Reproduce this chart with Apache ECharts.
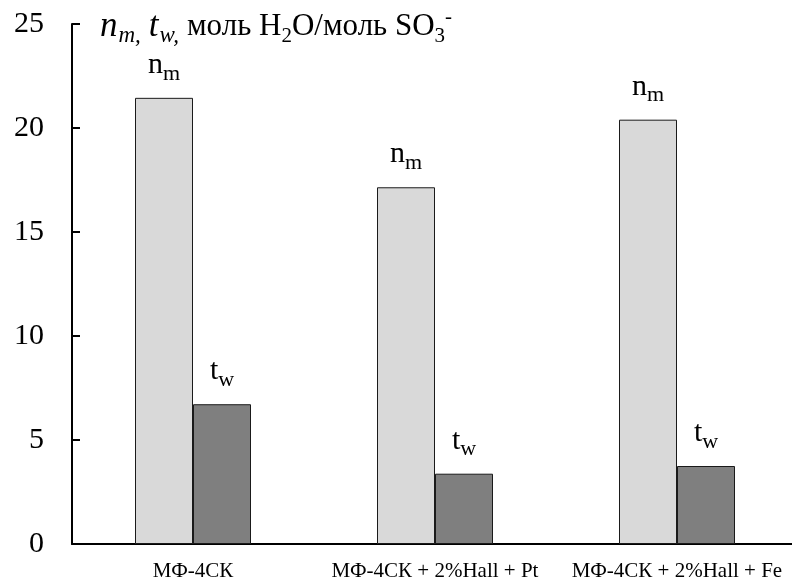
<!DOCTYPE html>
<html>
<head>
<meta charset="utf-8">
<script src="https://cdn.jsdelivr.net/npm/echarts@6/dist/echarts.min.js"></script>
<style>
  html, body { margin: 0; padding: 0; background: #fff; }
  #chart { width: 792px; height: 585px; }
</style>
</head>
<body>
<div id="chart"></div>
<script>
// Membrane samples along the category axis
const categories = ['МФ-4СК', 'МФ-4СК + 2%Hall + Pt', 'МФ-4СК + 2%Hall + Fe'];
// Water content n_m and number of water molecules t_w, моль H2O/моль SO3-
const nmValues = [21.45, 17.15, 20.4];
const twValues = [6.72, 3.38, 3.75];
// Value axis ticks
const yTicks = [0, 5, 10, 15, 20, 25];

const SERIF = '"Liberation Serif", "DejaVu Serif", serif';

const chart = echarts.init(document.getElementById('chart'), null, { renderer: 'canvas' });

const base = { fontFamily: SERIF, fontWeight: 'normal', color: '#000' };

// Bar captions: letter with a lowered subscript
const subRich = {
  b: Object.assign({}, base, { fontSize: 30, lineHeight: 40 }),
  s: Object.assign({}, base, { fontSize: 22, lineHeight: 22, verticalAlign: 'bottom' })
};

function barLabel(main, sub) {
  return {
    show: true,
    position: 'top',
    distance: 13,
    formatter: '{b|' + main + '}{s|' + sub + '}',
    rich: subRich
  };
}

chart.setOption({
  animation: false,
  backgroundColor: '#fff',
  title: {
    left: 95,
    top: 2,
    text: '{i|n}{is|m,}{i|t}{is|w,}{r|моль H}{sub|2}{r|O/моль SO}{sub|3}{sup|-}',
    textStyle: {
      fontWeight: 'normal',
      rich: {
        i: Object.assign({}, base, { fontStyle: 'italic', fontSize: 35, lineHeight: 40 }),
        is: Object.assign({}, base, { fontStyle: 'italic', fontSize: 23, lineHeight: 22, verticalAlign: 'bottom', padding: [0, 8, 0, 1] }),
        r: Object.assign({}, base, { fontSize: 31, lineHeight: 40 }),
        sub: Object.assign({}, base, { fontSize: 21, lineHeight: 22, verticalAlign: 'bottom' }),
        sup: Object.assign({}, base, { fontSize: 21, lineHeight: 22, verticalAlign: 'top' })
      }
    }
  },
  grid: { left: 72, width: 726, top: 24, bottom: 41, containLabel: false, outerBoundsMode: 'none' },
  xAxis: {
    type: 'category',
    data: categories,
    boundaryGap: true,
    axisLine: { lineStyle: { color: '#000', width: 2 } },
    axisTick: { show: false },
    axisLabel: { fontFamily: SERIF, fontSize: 21, color: '#000', margin: 17, interval: 0 }
  },
  yAxis: {
    type: 'value',
    min: yTicks[0],
    max: yTicks[yTicks.length - 1],
    interval: yTicks[1] - yTicks[0],
    splitLine: { show: false },
    axisLine: { show: true, lineStyle: { color: '#000', width: 2 } },
    axisTick: { show: true, inside: true, length: 8, lineStyle: { color: '#000', width: 2 } },
    axisLabel: { fontFamily: SERIF, fontSize: 30, color: '#000', margin: 28 }
  },
  series: [
    {
      name: 'n_m',
      type: 'bar',
      data: nmValues,
      barWidth: 58,
      barGap: '0%',
      itemStyle: { color: '#d9d9d9', borderColor: '#1a1a1a', borderWidth: 1 },
      label: barLabel('n', 'm')
    },
    {
      name: 't_w',
      type: 'bar',
      data: twValues,
      barWidth: 58,
      barGap: '0%',
      itemStyle: { color: '#7f7f7f', borderColor: '#1a1a1a', borderWidth: 1 },
      label: barLabel('t', 'w')
    }
  ]
});
</script>
</body>
</html>
